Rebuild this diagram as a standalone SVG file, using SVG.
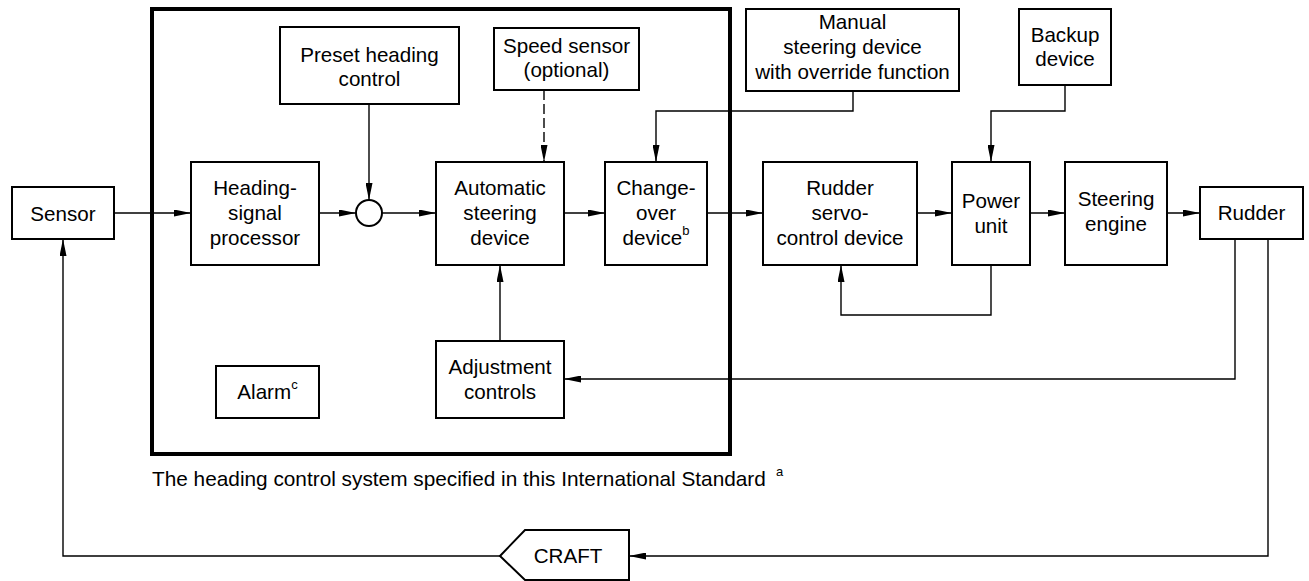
<svg xmlns="http://www.w3.org/2000/svg" width="1309" height="581" viewBox="0 0 1309 581">
<style>
.box{fill:#fff;stroke:#000;stroke-width:2}
.big{fill:none;stroke:#000;stroke-width:4}
.t{font-family:"Liberation Sans",Arial,sans-serif;font-size:20.6px;fill:#000;text-anchor:middle}
.c{fill:none;stroke:#000;stroke-width:1.4}
.a{marker-end:url(#ah)}
.sup{font-size:13px}
</style>
<defs>
<marker id="ah" markerUnits="userSpaceOnUse" markerWidth="17" markerHeight="7" refX="17" refY="3.5" orient="auto">
<path d="M0,0 L17,3.5 L0,7 z" fill="#000"/>
</marker>
</defs>
<rect width="1309" height="581" fill="#fff"/>
<g id="system-boundary">
<rect class="big" x="152" y="9" width="578" height="445"/>
<text class="t" x="152" y="486" style="text-anchor:start;font-size:20.8px">The heading control system specified in this International Standard<tspan class="sup" dx="10" dy="-10">a</tspan></text>
</g>
<g id="connectors">
<line class="c a" x1="114" y1="213" x2="191" y2="213"/>
<line class="c a" x1="319" y1="213" x2="356" y2="213"/>
<line class="c a" x1="382" y1="213" x2="436" y2="213"/>
<line class="c a" x1="564" y1="213" x2="605" y2="213"/>
<line class="c a" x1="707" y1="213" x2="763" y2="213"/>
<line class="c a" x1="917" y1="213" x2="952" y2="213"/>
<line class="c a" x1="1030" y1="213" x2="1065" y2="213"/>
<line class="c a" x1="1167" y1="213" x2="1200" y2="213"/>
<line class="c a" x1="369" y1="104" x2="369" y2="200"/>
<line class="c a" x1="544" y1="90" x2="544" y2="162" stroke-dasharray="10,4"/>
<polyline class="c a" points="853,91 853,111 656,111 656,162"/>
<polyline class="c a" points="1065,85 1065,111 991,111 991,162"/>
<polyline class="c a" points="991,265 991,315 841,315 841,265"/>
<line class="c a" x1="500" y1="341" x2="500" y2="265"/>
<polyline class="c a" points="1235,239 1235,379 564,379"/>
<polyline class="c a" points="1268,239 1268,556 629,556"/>
<polyline class="c a" points="500,556 63,556 63,239"/>
</g>
<g id="sensor"><rect class="box" x="12" y="187" width="102" height="52"/><text class="t" x="63" y="221">Sensor</text></g>
<g id="heading-signal-processor"><rect class="box" x="191" y="162" width="128" height="103"/><text class="t" x="255" y="195">Heading-</text><text class="t" x="255" y="220">signal</text><text class="t" x="255" y="245">processor</text></g>
<g id="summing-junction"><circle cx="369" cy="213" r="13" fill="#fff" stroke="#000" stroke-width="2"/></g>
<g id="preset-heading-control"><rect class="box" x="280" y="27" width="179" height="77"/><text class="t" x="369.5" y="62">Preset heading</text><text class="t" x="369.5" y="86">control</text></g>
<g id="speed-sensor"><rect class="box" x="494" y="28" width="145" height="62"/><text class="t" x="566.5" y="53">Speed sensor</text><text class="t" x="566.5" y="77">(optional)</text></g>
<g id="automatic-steering-device"><rect class="box" x="436" y="162" width="128" height="103"/><text class="t" x="500" y="195">Automatic</text><text class="t" x="500" y="220">steering</text><text class="t" x="500" y="245">device</text></g>
<g id="change-over-device"><rect class="box" x="605" y="162" width="102" height="103"/><text class="t" x="656" y="195">Change-</text><text class="t" x="656" y="220">over</text><text class="t" x="656" y="245">device<tspan class="sup" dy="-10">b</tspan></text></g>
<g id="manual-steering-device"><rect class="box" x="746" y="9" width="213" height="82"/><text class="t" x="852.5" y="29">Manual</text><text class="t" x="852.5" y="54">steering device</text><text class="t" x="852.5" y="79">with override function</text></g>
<g id="backup-device"><rect class="box" x="1019" y="9" width="92" height="76"/><text class="t" x="1065" y="42">Backup</text><text class="t" x="1065" y="66">device</text></g>
<g id="rudder-servo-control-device"><rect class="box" x="763" y="162" width="154" height="103"/><text class="t" x="840" y="195">Rudder</text><text class="t" x="840" y="220">servo-</text><text class="t" x="840" y="245">control device</text></g>
<g id="power-unit"><rect class="box" x="952" y="162" width="78" height="103"/><text class="t" x="991" y="208">Power</text><text class="t" x="991" y="233">unit</text></g>
<g id="steering-engine"><rect class="box" x="1065" y="162" width="102" height="103"/><text class="t" x="1116" y="206">Steering</text><text class="t" x="1116" y="231">engine</text></g>
<g id="rudder"><rect class="box" x="1200" y="187" width="103" height="52"/><text class="t" x="1251.5" y="220">Rudder</text></g>
<g id="adjustment-controls"><rect class="box" x="436" y="341" width="128" height="77"/><text class="t" x="500" y="374">Adjustment</text><text class="t" x="500" y="399">controls</text></g>
<g id="alarm"><rect class="box" x="216" y="366" width="103" height="52"/><text class="t" x="267.5" y="399">Alarm<tspan class="sup" dy="-10">c</tspan></text></g>
<g id="craft"><polygon class="box" points="500,556 525,530 629,530 629,580 525,580"/><text class="t" x="568" y="563">CRAFT</text></g>
</svg>
